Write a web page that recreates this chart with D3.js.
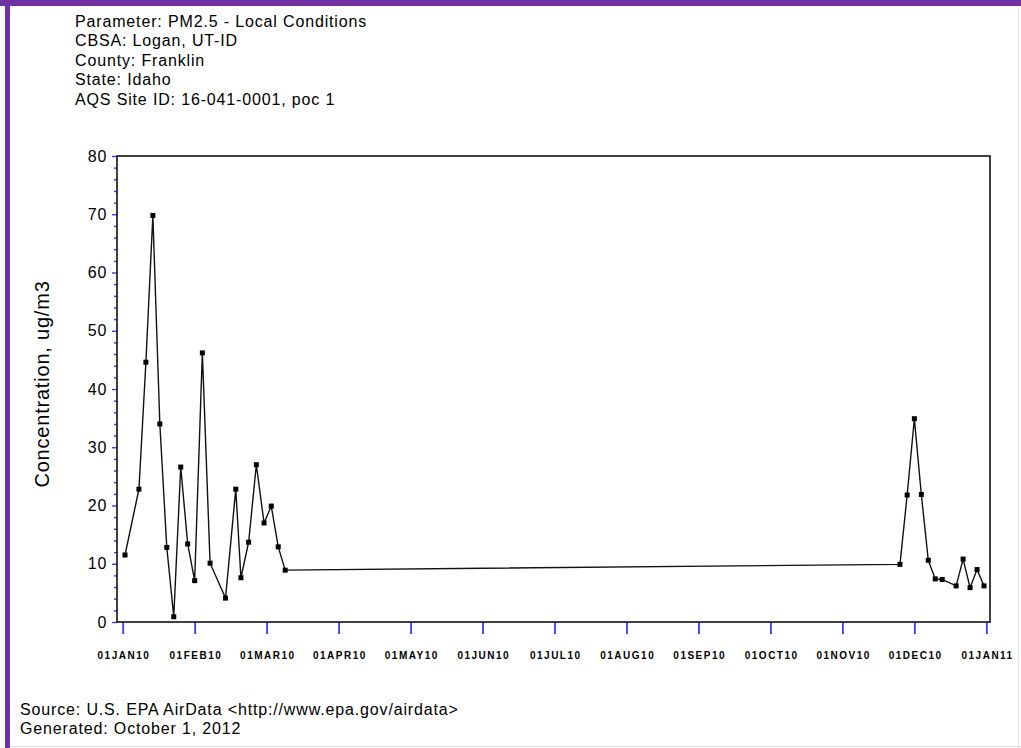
<!DOCTYPE html>
<html>
<head>
<meta charset="utf-8">
<script src="https://cdn.jsdelivr.net/npm/d3@7"></script>
<style>
  html, body { margin: 0; padding: 0; background: #fff; }
  svg { display: block; }
  text { font-family: "Liberation Sans", Arial, sans-serif; fill: #000; }
</style>
</head>
<body>
<svg id="chart" width="1021" height="748"></svg>
<script>
// PM2.5 daily samples, 2010 (ug/m3)
const sampleDates = [
  "2010-01-02", "2010-01-08", "2010-01-11", "2010-01-14", "2010-01-17",
  "2010-01-20", "2010-01-23", "2010-01-26", "2010-01-29", "2010-02-01",
  "2010-02-04", "2010-02-07", "2010-02-13", "2010-02-17", "2010-02-19",
  "2010-02-22", "2010-02-25", "2010-02-28", "2010-03-03", "2010-03-06",
  "2010-03-09", "2010-11-25", "2010-11-28", "2010-12-01", "2010-12-04",
  "2010-12-07", "2010-12-10", "2010-12-13", "2010-12-19", "2010-12-22",
  "2010-12-25", "2010-12-28", "2010-12-31"
];
const concentrations = [
  11.5, 22.8, 44.6, 69.8, 34.0,
  12.8, 0.9, 26.6, 13.4, 7.1,
  46.2, 10.1, 4.1, 22.8, 7.6,
  13.7, 27.0, 17.0, 19.9, 12.9,
  8.9, 9.9, 21.8, 34.9, 21.9,
  10.6, 7.4, 7.3, 6.2, 10.8,
  5.9, 9.0, 6.2
];
const monthTickLabels = [
  "01JAN10", "01FEB10", "01MAR10", "01APR10", "01MAY10", "01JUN10", "01JUL10",
  "01AUG10", "01SEP10", "01OCT10", "01NOV10", "01DEC10", "01JAN11"
];
const yMajorTicks = [0, 10, 20, 30, 40, 50, 60, 70, 80];
const headerLines = [
  "Parameter: PM2.5 - Local Conditions",
  "CBSA: Logan, UT-ID",
  "County: Franklin",
  "State: Idaho",
  "AQS Site ID: 16-041-0001, poc 1"
];
const footerLines = [
  "Source: U.S. EPA AirData <http://www.epa.gov/airdata>",
  "Generated: October 1, 2012"
];

const svg = d3.select("#chart");
const W = 1021, H = 748;
const frame = { left: 117, right: 990, top: 156, bottom: 622 };
const tickBlue = "#3a3aff";
const purple = "#7231a2";

// page border
svg.append("rect").attr("x", 0).attr("y", 0).attr("width", W).attr("height", 6).attr("fill", purple);
svg.append("rect").attr("x", 5).attr("y", 0).attr("width", 5).attr("height", H).attr("fill", purple);
svg.append("line").attr("x1", 10).attr("x2", W).attr("y1", 746.5).attr("y2", 746.5)
  .attr("stroke", "#dcdcdc").attr("stroke-width", 1);
svg.append("line").attr("x1", 1018.5).attr("x2", 1018.5).attr("y1", 6).attr("y2", H)
  .attr("stroke", "#e6e6e6").attr("stroke-width", 1);

// header block
svg.append("g").selectAll("text").data(headerLines).join("text")
  .attr("x", 75).attr("y", (d, i) => 26.5 + i * 19.5)
  .style("font-size", "16px").style("letter-spacing", "0.85px").text(d => d);

// footer block
svg.append("g").selectAll("text").data(footerLines).join("text")
  .attr("x", 20).attr("y", (d, i) => 714.5 + i * 19.5)
  .style("font-size", "16px").style("letter-spacing", "0.85px").text(d => d);

// months are spaced evenly; a date maps to month index + fraction of its month
const parse = d3.timeParse("%Y-%m-%d");
const yearStart = new Date(2010, 0, 1);
function monthPos(date) {
  const m0 = d3.timeMonth.floor(date);
  const m1 = d3.timeMonth.offset(m0, 1);
  const idx = d3.timeMonth.count(yearStart, m0);
  return idx + (date - m0) / (m1 - m0);
}

const x = d3.scaleLinear().domain([-0.079, 12.051]).range([frame.left, frame.right]);
const y = d3.scaleLinear().domain([0, 80]).range([frame.bottom, frame.top]);

const data = sampleDates.map((d, i) => ({ m: monthPos(parse(d)), v: concentrations[i] }));

// y axis: major and minor ticks
const yAxisMajor = d3.axisLeft(y).tickValues(yMajorTicks).tickSize(5).tickPadding(5).tickFormat(d3.format("d"));
const gy = svg.append("g").attr("transform", `translate(${frame.left},0)`).call(yAxisMajor);
gy.select(".domain").remove();
gy.selectAll(".tick line").attr("stroke", tickBlue).attr("stroke-width", 1.4);
gy.selectAll(".tick text")
  .style("font-size", "16px").style("font-family", "Liberation Sans")
  .style("letter-spacing", "1px").attr("dx", "0.5px").attr("fill", "#222");

const minorVals = d3.range(0, 81, 2).filter(v => v % 10 !== 0);
const gyMinor = svg.append("g").attr("transform", `translate(${frame.left},0)`)
  .call(d3.axisLeft(y).tickValues(minorVals).tickSize(3).tickFormat(""));
gyMinor.select(".domain").remove();
gyMinor.selectAll(".tick line").attr("stroke", tickBlue).attr("stroke-width", 1.4);

// x axis
const xAxis = d3.axisBottom(x).tickValues(d3.range(0, 13)).tickSize(12).tickPadding(0)
  .tickFormat(i => monthTickLabels[i]);
const gx = svg.append("g").attr("transform", `translate(0,${frame.bottom})`).call(xAxis);
gx.select(".domain").remove();
gx.selectAll(".tick line").attr("stroke", tickBlue).attr("stroke-width", 1.8);
gx.selectAll(".tick text")
  .attr("y", 37).attr("dy", 0).attr("dx", "0.75px")
  .style("font-size", "10px").style("font-weight", "bold").style("font-family", "Liberation Sans")
  .style("letter-spacing", "1.5px")
  .attr("fill", "#111");

// y axis title
svg.append("text")
  .attr("transform", `translate(49,${(frame.top + frame.bottom) / 2 - 5}) rotate(-90)`)
  .attr("text-anchor", "middle")
  .style("font-size", "20px").style("letter-spacing", "0.8px")
  .attr("fill", "#222")
  .text("Concentration, ug/m3");

// plot frame
svg.append("rect")
  .attr("x", frame.left).attr("y", frame.top)
  .attr("width", frame.right - frame.left).attr("height", frame.bottom - frame.top)
  .attr("fill", "none").attr("stroke", "#111").attr("stroke-width", 1.6);

// series line and markers
const line = d3.line().x(d => x(d.m)).y(d => y(d.v));
svg.append("path").datum(data)
  .attr("d", line).attr("fill", "none").attr("stroke", "#111").attr("stroke-width", 1.4);

svg.append("g").selectAll("rect").data(data).join("rect")
  .attr("x", d => x(d.m) - 2.5).attr("y", d => y(d.v) - 2.5)
  .attr("width", 5).attr("height", 5).attr("fill", "#000");
</script>
</body>
</html>
